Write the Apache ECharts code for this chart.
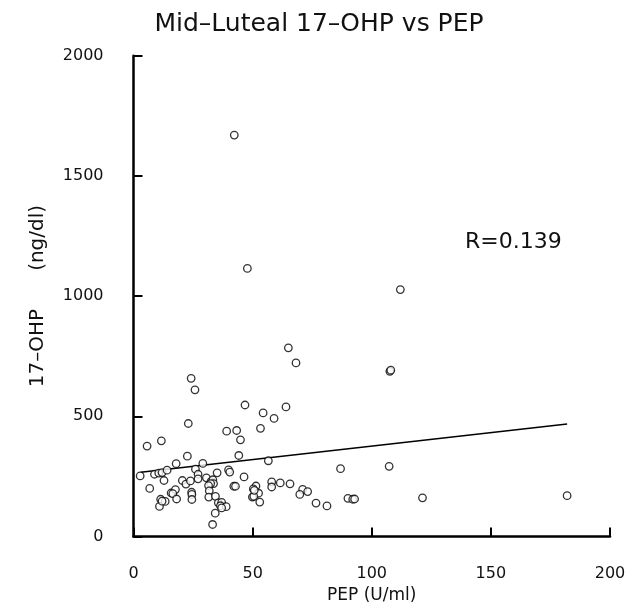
<!DOCTYPE html>
<html><head><meta charset="utf-8">
<script src="https://cdn.jsdelivr.net/npm/echarts@6/dist/echarts.min.js"></script>
<style>html,body{margin:0;padding:0;background:#fff;}#c{width:642px;height:614px;}</style>
</head><body><div id="c"></div>
<script>
const titleText = 'Mid\u2013Luteal 17\u2013OHP vs PEP';
const xName = 'PEP (U/ml)';
const yName = '17\u2013OHP      (ng/dl)';
const xTicks = [0, 50, 100, 150, 200];
const yTicks = [0, 500, 1000, 1500, 2000];
const annotation = 'R=0.139';
const pepValues = [42.3,47.8,112,107.6,108,65,68.2,24.2,25.8,46.8,54.4,59,64,23,39.1,43.3,53.3,44.9,11.7,5.7,22.6,44.2,56.6,2.8,6.8,8.8,10.6,12,14.1,17.9,12.8,20.5,22,23.9,26,27.1,27.1,29.1,30.6,32.5,33.3,33.6,32.4,35.1,39.9,40.4,46.4,42.1,42.8,51.4,50.3,52.5,49.9,53,58,58,61.6,65.7,71,73.1,69.8,76.6,81.2,86.9,90,92,92.8,107.3,121.3,182,15.8,17.6,16.5,18.1,11.4,10.9,13.3,12,24.4,24.5,24.5,31.5,31.8,31.6,34.4,35.6,37,36.5,38.9,37,34.3,33.2,50.5,50.7];
const ohpValues = [1670,1115,1027,687,692,785,722,658,610,547,514,491,539,470,438,441,450,402,398,376,334,337,315,252,200,259,264,266,276,303,233,233,218,231,280,259,240,304,244,228,236,220,220,265,277,268,248,209,209,210,198,180,164,143,227,206,223,219,196,187,175,139,127,282,159,155,156,292,161,170,181,195,178,156,155,125,146,147,184,175,154,212,190,164,167,140,142,128,124,119,97,50,167,192];
const fitX = [3, 182];
const fitY = [267, 468];

const points = pepValues.map((x, i) => [x, ohpValues[i]]);
const fit = fitX.map((x, i) => [x, fitY[i]]);
const font = 'DejaVu Sans';
const chart = echarts.init(document.getElementById('c'), null, {renderer: 'canvas'});
chart.setOption({
  animation: false,
  backgroundColor: '#fff',
  title: {text: titleText, left: 314, top: 7, textAlign: 'center',
    textStyle: {fontFamily: font, fontSize: 25, fontWeight: 'normal', color: '#111'}},
  grid: {left: 133.5, right: 32, top: 55.7, bottom: 77.5},
  xAxis: {type: 'value', min: xTicks[0], max: xTicks[xTicks.length - 1], interval: 50,
    name: xName, nameLocation: 'middle', nameGap: 51,
    nameTextStyle: {fontFamily: font, fontSize: 17, color: '#111'},
    axisLine: {show: true, lineStyle: {color: '#000', width: 2.5}},
    axisTick: {show: true, inside: true, length: 9, lineStyle: {color: '#000', width: 2}},
    axisLabel: {fontFamily: font, fontSize: 16, color: '#111', margin: 29},
    splitLine: {show: false}},
  yAxis: {type: 'value', min: yTicks[0], max: yTicks[yTicks.length - 1], interval: 500,
    name: yName, nameLocation: 'middle', nameGap: 86, nameRotate: 90,
    nameTextStyle: {fontFamily: font, fontSize: 20, color: '#111'},
    axisLine: {show: true, lineStyle: {color: '#000', width: 2.5}},
    axisTick: {show: true, inside: true, length: 9, lineStyle: {color: '#000', width: 2}},
    axisLabel: {fontFamily: font, fontSize: 16, color: '#111', margin: 30,
      formatter: v => String(v)},
    splitLine: {show: false}},
  graphic: [{type: 'text', left: 465, top: 231,
    style: {text: annotation, fontFamily: font, fontSize: 22, fill: '#111'}}],
  series: [
    {type: 'scatter', data: points, symbol: 'circle', symbolSize: 7.5,
      itemStyle: {color: '#fff', borderColor: '#000', borderWidth: 1.3}},
    {type: 'line', data: fit, symbol: 'none', lineStyle: {color: '#000', width: 1.5}, z: 1}
  ]
});
</script></body></html>
